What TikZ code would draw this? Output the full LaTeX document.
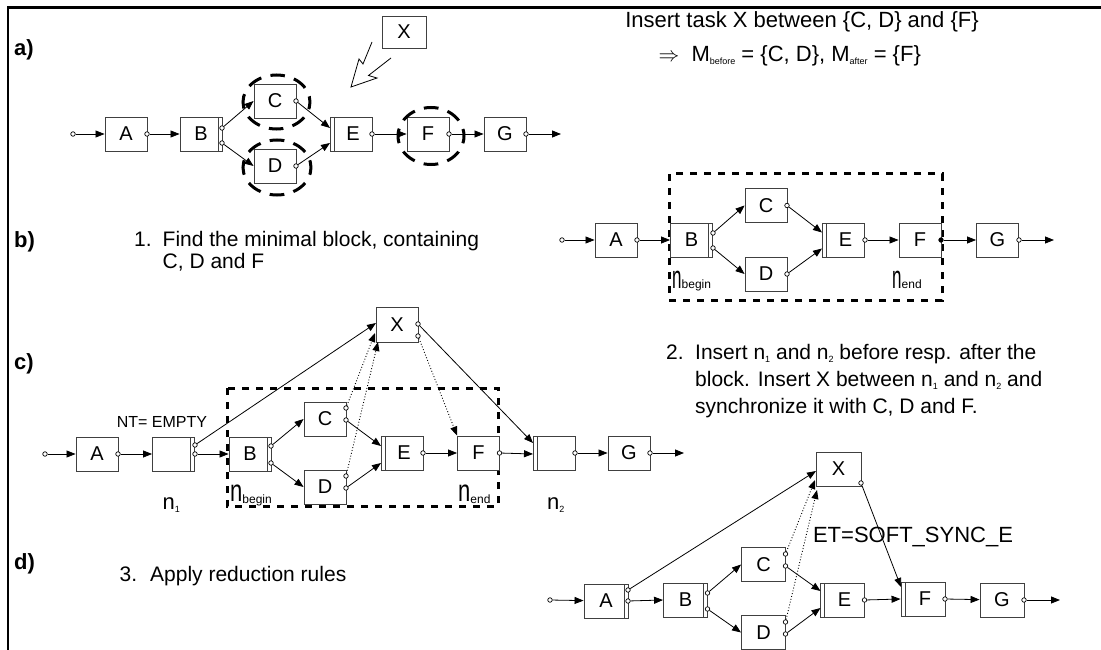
\documentclass[tikz,border=0pt]{standalone}
\usepackage{fontspec}
\setmainfont{Liberation Sans}
\usepackage{graphicx}
\usetikzlibrary{arrows.meta,calc}
\newcommand\fs[1]{\fontsize{#1}{#1}\selectfont}
\newcommand\sbt[1]{\raisebox{-2.5pt}{\fs{9}#1}}
\tikzset{
 task/.style={draw=black!75, line width=0.9pt, minimum width=42pt, minimum height=34pt, inner sep=0pt, font=\fs{20}, fill=white},
 innerR/.style={path picture={\draw[black!75,line width=0.9pt] ([xshift=-4pt]path picture bounding box.north east) -- ([xshift=-4pt]path picture bounding box.south east);}},
 innerL/.style={path picture={\draw[black!75,line width=0.9pt] ([xshift=4pt]path picture bounding box.north west) -- ([xshift=4pt]path picture bounding box.south west);}},
 port/.style={circle, draw=black, fill=white, line width=0.7pt, minimum size=4.5pt, inner sep=0pt},
 flow/.style={line width=0.8pt, -{Triangle[length=9pt,width=7pt]}},
 sync/.style={line width=0.9pt, dotted, -{Triangle[length=9pt,width=7pt]}},
 blockbox/.style={line width=3pt, dash pattern=on 7pt off 7pt},
 sel/.style={line width=3pt, dash pattern=on 14.5pt off 9.5pt, dash phase=7.25pt},
 lbl/.style={font=\bfseries\fs{22}, anchor=west, inner sep=0pt},
 txt/.style={font=\fs{21}, anchor=base west, inner sep=0pt},
}
\begin{document}
\begin{tikzpicture}[x=1pt,y=-1pt]
\useasboundingbox (0,0) rectangle (1101,650);
% frame
\draw[line width=3pt] (7,7.5) -- (1101,7.5);
\draw[line width=2.5pt] (8,7.5) -- (8,650);

% labels
\node[lbl] (la) at (14,50) {a)};
\node[lbl] (lb) at (14,242) {b)};
\node[lbl] (lc) at (14,364) {c)};
\node[lbl] (ld) at (14,564) {d)};

% ===== a) =====
\node[task] (aA) at (126,134) {A};
\node[task,innerR] (aB) at (201,134) {B};
\node[task] (aC) at (275,101) {C};
\node[task] (aD) at (275,166) {D};
\node[task,innerL] (aE) at (351,134) {\hspace{4pt}E};
\node[task] (aF) at (428,134) {F};
\node[task] (aG) at (505,134) {G};
\node[task,minimum width=44pt,minimum height=32pt] (aX) at (404,32) {X};
\node[port] (a0) at (73,134) {};
\node[port] (aAo) at (147,134) {};
\node[port] (aBo1) at (222,128) {};
\node[port] (aBo2) at (222,143) {};
\node[port] (aCo) at (296,101) {};
\node[port] (aDo) at (296,166) {};
\node[port] (aEo) at (372,134) {};
\node[port] (aFo) at (449,134) {};
\node[port] (aGo) at (526,134) {};
\coordinate (aEi1) at (330,128);
\coordinate (aEi2) at (330,143);
\coordinate (aend) at (561,134);
\draw[flow] (a0) -- (aA);
\draw[flow] (aAo) -- (aB);
\draw[flow] (aBo1) -- (aC.west);
\draw[flow] (aBo2) -- (aD.west);
\draw[flow] (aCo) -- (aEi1);
\draw[flow] (aDo) -- (aEi2);
\draw[flow] (aEo) -- (aF);
\draw[flow] (aFo) -- (aG);
\draw[flow] (aGo) -- (aend);
\draw[sel] (276.5,102) ellipse [x radius=33.5, y radius=27];
\draw[sel,dash pattern=on 14.7pt off 9.5pt, dash phase=7.35pt] (277,167.5) ellipse [x radius=34, y radius=27.5];
\draw[sel,dash pattern=on 14.7pt off 9.5pt, dash phase=7.35pt] (431,136) ellipse [x radius=33, y radius=28.5];
\draw[line width=0.8pt, line join=miter] (372,42) -- (363,64) -- (359,59) -- (351,87) -- (377,78) -- (368.5,75.5) -- (391,58);

\node[font=\fs{22}] (t1) at (802,22) {Insert task X between \{C, D\} and \{F\}};
\node[font=\fs{22}, anchor=west] (t2) at (655,56) {$\Rightarrow$\ \ M\sbt{before} = \{C, D\}, M\sbt{after} = \{F\}};

% ===== b) =====
\node[txt] (s1n) at (134,246) {1.};
\node[txt] (s1a) at (162.5,246) {Find the minimal block, containing};
\node[txt] (s1b) at (162.5,268) {C, D and F};

\draw[blockbox] (669,174) rectangle (942,300);
\node[task] (bA) at (616,240) {A};
\node[task,innerR] (bB) at (691.5,240) {B};
\node[task] (bC) at (766,205.5) {C};
\node[task] (bD) at (766,274) {D};
\node[task,innerL] (bE) at (843.5,240) {\hspace{4pt}E};
\node[task] (bF) at (920,240) {F};
\node[task] (bG) at (997.5,240) {G};
\node[port] (b0) at (562,240) {};
\node[port] (bAo) at (637,240) {};
\node[port] (bBo1) at (713,233) {};
\node[port] (bBo2) at (713,248) {};
\node[port] (bCo) at (787,205.5) {};
\node[port] (bDo) at (787,274) {};
\node[port] (bEo) at (865,240) {};
\node[port,fill=black] (bFo) at (941,240) {};
\node[port] (bGo) at (1019,240) {};
\coordinate (bEi1) at (822,232.5);
\coordinate (bEi2) at (822,248.5);
\coordinate (bend) at (1054,240);
\draw[flow] (b0) -- (bA);
\draw[flow] (bAo) -- (bB);
\draw[flow] (bBo1) -- (bC.west);
\draw[flow] (bBo2) -- (bD.west);
\draw[flow] (bCo) -- (bEi1);
\draw[flow] (bDo) -- (bEi2);
\draw[flow] (bEo) -- (bF);
\draw[flow] (bFo) -- (bG);
\draw[flow] (bGo) -- (bend);
\node[anchor=base west, inner sep=0pt] (bnb) at (672,288) {\scalebox{1}[1.9]{\fs{17}n}\fs{12}begin};
\node[anchor=base west, inner sep=0pt] (bne) at (892,288) {\scalebox{1}[1.9]{\fs{17}n}\fs{12}end};

% ===== c) =====
\node[txt] (s2n) at (666,359.5) {2.};
\node[txt] (s2a) at (695,359.5) {Insert n\sbt{1} and n\sbt{2} before resp. after the};
\node[txt] (s2b) at (695,386.5) {block. Insert X between n\sbt{1} and n\sbt{2} and};
\node[txt] (s2c) at (695,413) {synchronize it with C, D and F.};

\draw[blockbox] (227,388) rectangle (498,506);
\node[task] (cA) at (97,454) {A};
\node[task,innerR] (cN1) at (173.5,454) {};
\node[task,innerR] (cB) at (250,454) {B};
\node[task] (cC) at (325,419) {C};
\node[task] (cD) at (325,487) {D};
\node[task,innerL] (cE) at (402,453) {\hspace{4pt}E};
\node[task] (cF) at (478.5,453) {F};
\node[task,innerL] (cN2) at (554,453) {};
\node[task] (cG) at (629,453) {G};
\node[task,minimum height=35pt] (cX) at (397,324.5) {X};
\node[port] (c0) at (45,454) {};
\node[port] (cAo) at (118,454) {};
\node[port] (cN1o1) at (195,445) {};
\node[port] (cN1o2) at (195,454) {};
\node[port] (cBo1) at (271,446) {};
\node[port] (cBo2) at (271,463) {};
\node[port] (cCo1) at (346,408) {};
\node[port] (cCo2) at (346,420) {};
\node[port] (cDo1) at (346,476) {};
\node[port] (cDo2) at (346,488) {};
\node[port] (cEo) at (423,453) {};
\node[port] (cFo) at (499.5,453) {};
\node[port] (cN2o) at (575,453) {};
\node[port] (cGo) at (650,453) {};
\node[port] (cXo1) at (418,324) {};
\node[port] (cXo2) at (418,336) {};
\coordinate (cXi1) at (376,323);
\coordinate (cXi2) at (375,333);
\coordinate (cXi3) at (378,342);
\coordinate (cEi1) at (381,446);
\coordinate (cEi2) at (381,463);
\coordinate (cN2i1) at (533,443);
\coordinate (cN2i2) at (533,454);
\coordinate (cend) at (684,453);
\draw[flow] (c0) -- (cA);
\draw[flow] (cAo) -- (cN1);
\draw[flow] (cN1o2) -- (cB.west);
\draw[flow] (cN1o1) -- (cXi1);
\draw[flow] (cBo1) -- (cC.west);
\draw[flow] (cBo2) -- (cD.west);
\draw[flow] (cCo2) -- (cEi1);
\draw[flow] (cDo2) -- (cEi2);
\draw[sync] (cCo1) -- (cXi2);
\draw[sync] (cDo1) -- (cXi3);
\draw[sync] (cXo2) -- (cF.north west);
\draw[flow] (cXo1) -- (cN2i1);
\draw[flow] (cEo) -- (cF);
\draw[flow] (cFo) -- (cN2i2);
\draw[flow] (cN2o) -- (cG);
\draw[flow] (cGo) -- (cend);
\node[font=\fs{16}] (cnt) at (162,422) {NT= EMPTY};
\node[anchor=base west, inner sep=0pt] (cn1) at (162.5,509.5) {\fs{22}n\sbt{1}};
\node[anchor=base west, inner sep=0pt] (cn2) at (547,509.5) {\fs{22}n\sbt{2}};
\node[anchor=base west, inner sep=0pt] (cnb) at (230,501) {\scalebox{1}[1.4]{\fs{22}n}\raisebox{-2pt}{\fs{12}begin}};
\node[anchor=base west, inner sep=0pt] (cne) at (458,501) {\scalebox{1}[1.4]{\fs{22}n}\raisebox{-2pt}{\fs{12}end}};

% ===== d) =====
\node[txt] (s3n) at (119.5,581) {3.};
\node[txt] (s3a) at (150,581) {Apply reduction rules};

\node[task,innerR,minimum width=44pt] (dA) at (606,601) {A};
\node[task,innerR,minimum width=44pt] (dB) at (685.5,600) {B};
\node[task,minimum width=44pt] (dC) at (763.5,564.5) {C};
\node[task,minimum width=44pt] (dD) at (763.5,632.5) {D};
\node[task,innerL,minimum width=44pt] (dE) at (842.5,600) {\hspace{4pt}E};
\node[task,innerL,minimum width=44pt] (dF) at (923,599) {\hspace{4pt}F};
\node[task,minimum width=44pt] (dG) at (1002,600) {G};
\node[task,minimum width=45pt] (dX) at (838.5,469) {X};
\node[port] (d0) at (550,600) {};
\node[port] (dAo1) at (628,590) {};
\node[port] (dAo2) at (628,601) {};
\node[port] (dBo1) at (707.5,593) {};
\node[port] (dBo2) at (707.5,609) {};
\node[port] (dCo1) at (785.5,554) {};
\node[port] (dCo2) at (785.5,566) {};
\node[port] (dDo1) at (785.5,622) {};
\node[port] (dDo2) at (785.5,634) {};
\node[port] (dEo) at (864.5,600) {};
\node[port] (dFo) at (945,599) {};
\node[port] (dGo) at (1024,600) {};
\node[port] (dXo) at (861,483) {};
\coordinate (dXi1) at (816,471);
\coordinate (dXi2) at (815,480);
\coordinate (dXi3) at (817,490);
\coordinate (dEi1) at (820.5,591);
\coordinate (dEi2) at (820.5,608);
\coordinate (dFi1) at (901,587);
\coordinate (dend) at (1060,600);
\draw[flow] (d0) -- (dA);
\draw[flow] (dAo2) -- (dB.west);
\draw[flow] (dAo1) -- (dXi1);
\draw[flow] (dBo1) -- (dC.west);
\draw[flow] (dBo2) -- (dD.west);
\draw[flow] (dCo2) -- (dEi1);
\draw[flow] (dDo2) -- (dEi2);
\draw[sync] (dCo1) -- (dXi2);
\draw[sync] (dDo1) -- (dXi3);
\draw[flow] (dEo) -- (dF.west);
\draw[flow] (dXo) -- (dFi1);
\draw[flow] (dFo) -- (dG);
\draw[flow] (dGo) -- (dend);
\node[font=\fs{22}] (det) at (913,537) {ET=SOFT\_SYNC\_E};
\end{tikzpicture}
\end{document}
